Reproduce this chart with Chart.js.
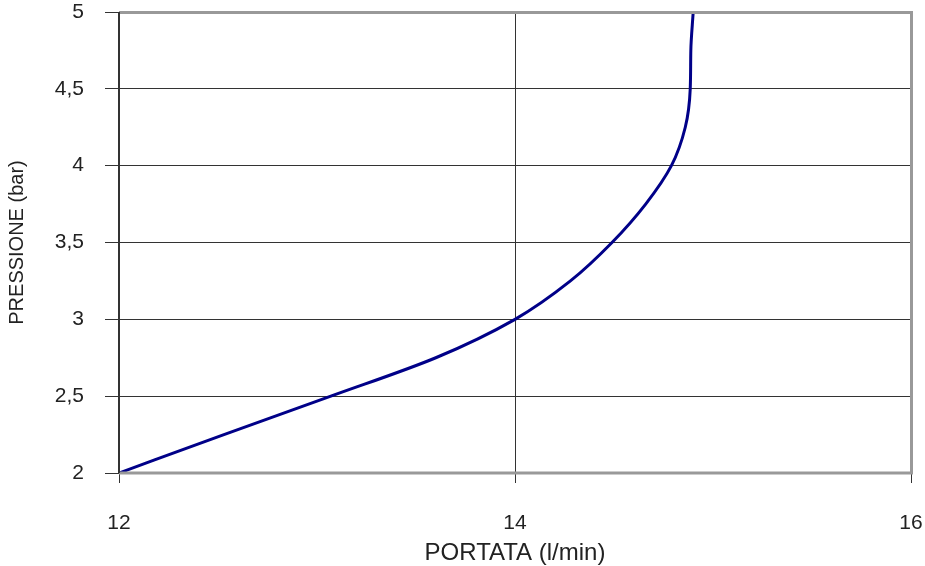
<!DOCTYPE html>
<html>
<head>
<meta charset="utf-8">
<script src="https://cdn.jsdelivr.net/npm/chart.js@4"></script>
<style>
  html, body { margin: 0; padding: 0; background: #fff; }
  #wrap { width: 925px; height: 566px; }
</style>
</head>
<body>
<div id="wrap"><canvas id="myChart"></canvas></div>
<script>
// curve
var portata  = [12.00, 12.53, 13.07, 13.60, 14.00, 14.28, 14.49, 14.66, 14.79, 14.86, 14.885, 14.888, 14.90];
var pressione = [2.00, 2.25, 2.50, 2.75, 3.00, 3.25, 3.50, 3.75, 4.00, 4.25, 4.50, 4.75, 5.00];
var xTicks = [12, 14, 16];
var yTicks = [2, 2.5, 3, 3.5, 4, 4.5, 5];

var points = portata.map(function (x, i) { return { x: x, y: pressione[i] }; });

var borderPlugin = {
    id: 'borders',
    afterDraw: function (chart) {
        var a = chart.chartArea, c = chart.ctx;
        c.save();
        c.strokeStyle = '#999';
        c.lineWidth = 3;
        c.beginPath();
        c.moveTo(a.left, a.top + 0.5);
        c.lineTo(a.right + 0.5, a.top + 0.5);
        c.lineTo(a.right + 0.5, a.bottom);
        c.lineTo(a.left, a.bottom);
        c.stroke();
        c.strokeStyle = '#333';
        c.lineWidth = 2;
        c.beginPath();
        c.moveTo(a.left, a.top);
        c.lineTo(a.left, a.bottom);
        c.stroke();
        c.restore();
    }
};

var ctx = document.getElementById('myChart').getContext('2d');
var myChart = new Chart(ctx, {
    type: 'scatter',
    data: {
        datasets: [{
            data: points,
            indexAxis: 'y',
            showLine: true,
            borderColor: '#000088',
            borderWidth: 3,
            pointRadius: 0,
            cubicInterpolationMode: 'monotone'
        }]
    },
    options: {
        responsive: true,
        maintainAspectRatio: false,
        animation: false,
        layout: { padding: { top: 12, right: 14, left: 0, bottom: 0 } },
        plugins: { legend: { display: false }, tooltip: { enabled: false } },
        scales: {
            x: {
                type: 'linear',
                min: 12, max: 16,
                afterBuildTicks: function (s) { s.ticks = xTicks.map(function (v) { return { value: v }; }); },
                afterFit: function (s) { s.height = 93; s.paddingLeft = 0; s.paddingRight = 0; },
                grid: { color: '#333', lineWidth: 1, tickLength: 10 },
                border: { display: false },
                ticks: { color: '#222', font: { family: 'Liberation Sans', size: 21 }, padding: 28 },
                title: { display: true, text: 'PORTATA (l/min)', color: '#222', font: { family: 'Liberation Sans', size: 24 }, padding: { top: 0, bottom: -2 } }
            },
            y: {
                type: 'linear',
                min: 2, max: 5,
                afterBuildTicks: function (s) { s.ticks = yTicks.map(function (v) { return { value: v }; }); },
                afterFit: function (s) { s.width = 119; s.paddingTop = 0; s.paddingBottom = 0; },
                grid: { color: '#333', lineWidth: 1, tickLength: 14 },
                border: { display: false },
                ticks: {
                    color: '#222', font: { family: 'Liberation Sans', size: 21 }, padding: 21,
                    callback: function (v) { return String(v).replace('.', ','); }
                },
                title: { display: true, text: 'PRESSIONE (bar)', color: '#222', font: { family: 'Liberation Sans', size: 20 }, padding: { top: 5, bottom: 0 } }
            }
        }
    },
    plugins: [borderPlugin]
});
</script>
</body>
</html>
